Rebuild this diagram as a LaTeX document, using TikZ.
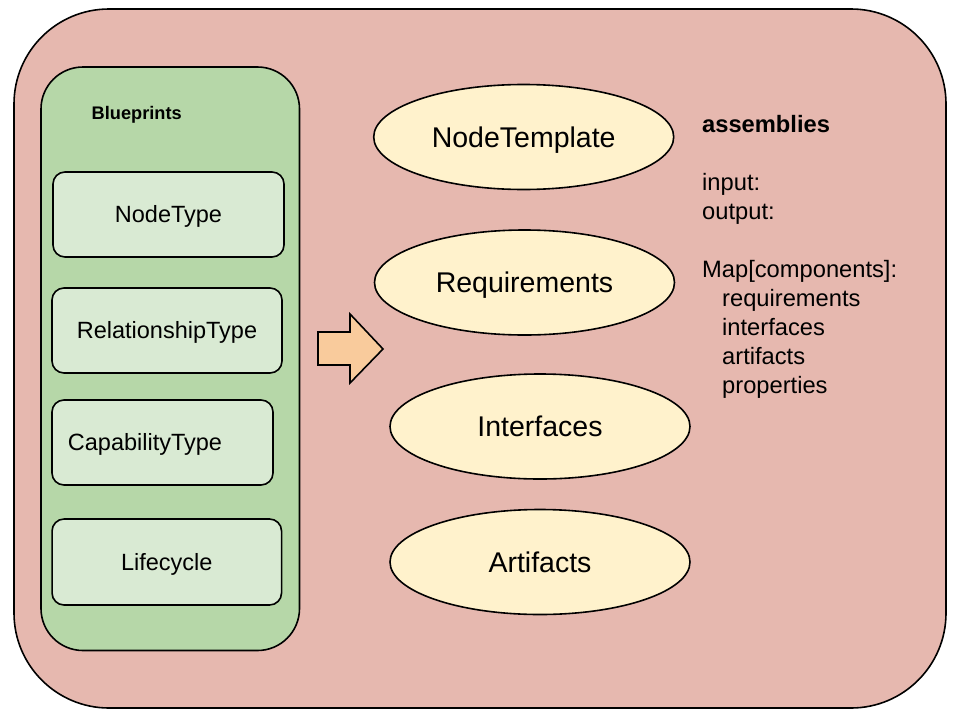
\documentclass[tikz,border=0pt]{standalone}
\usepackage{fontspec}
\setmainfont{Liberation Sans}
\definecolor{outerpink}{HTML}{E6B8AF}
\definecolor{bpgreen}{HTML}{B6D7A8}
\definecolor{boxgreen}{HTML}{D9EAD3}
\definecolor{ellyellow}{HTML}{FFF2CC}
\definecolor{arrorange}{HTML}{F9CB9C}
\tikzset{
  shapeline/.style={draw=black, line width=1.6pt},
  typebox/.style={shapeline, fill=boxgreen, rounded corners=12pt, inner sep=0pt,
    font=\fontsize{23.5}{28}\selectfont, text height=16.8pt, text depth=0pt},
  ellnode/.style={shapeline, fill=ellyellow, ellipse, inner sep=0pt,
    minimum width=300pt, minimum height=105pt,
    font=\fontsize{28.5}{34}\selectfont, text height=20.4pt, text depth=0pt},
  plaintext/.style={inner sep=0pt, anchor=base west, font=\fontsize{23.7}{29}\selectfont},
  boldtext/.style={plaintext, font=\fontsize{23.7}{29}\selectfont\bfseries},
}
\usetikzlibrary{shapes.geometric}
\begin{document}
\begin{tikzpicture}[x=1pt, y=-1pt]
\useasboundingbox (0,0) rectangle (960,720);
% outer container
\draw[shapeline, fill=outerpink, rounded corners=95pt] (14,9) rectangle (946,708);
% blueprints container
\draw[shapeline, fill=bpgreen, rounded corners=42pt] (41,67) rectangle (299.5,650.5);
\node[inner sep=0pt, anchor=base west, font=\fontsize{18.2}{22}\selectfont\bfseries] (bp) at (91.5,119.3) {Blueprints};
% type boxes
\node[typebox, minimum width=231pt, minimum height=85pt] (nodetype) at (168.5,214.5) {NodeType};
\node[typebox, minimum width=230pt, minimum height=85pt] (reltype) at (167,330.5) {RelationshipType};
\node[typebox, minimum width=221pt, minimum height=85pt] (captype) at (162.5,442.5) {};
\node[inner sep=0pt, font=\fontsize{23.5}{28}\selectfont, text height=16.8pt, text depth=0pt] (captxt) at (145,442.5) {CapabilityType};
\node[typebox, minimum width=229.5pt, minimum height=86pt] (lifecycle) at (166.8,562) {Lifecycle};
% arrow
\draw[shapeline, fill=arrorange, line join=miter] (318,332) -- (350,332) -- (350,314) -- (383,349) -- (350,383) -- (350,365) -- (318,365) -- cycle;
% ellipses
\node[ellnode] (nodetemplate) at (523.7,137) {NodeTemplate};
\node[ellnode] (requirements) at (524.5,282.5) {Requirements};
\node[ellnode] (interfaces) at (540,426.5) {Interfaces};
\node[ellnode] (artifacts) at (540,562) {Artifacts};
% assemblies text
\node[boldtext] (asm) at (702,132) {assemblies};
\node[plaintext] (inp) at (702,190) {input:};
\node[plaintext] (outp) at (702,219) {output:};
\node[plaintext] (mapc) at (702,277) {Map[components]:};
\node[plaintext] (mreq) at (722,306) {requirements};
\node[plaintext] (mint) at (722,335) {interfaces};
\node[plaintext] (mart) at (722,364) {artifacts};
\node[plaintext] (mprop) at (722,393) {properties};
\end{tikzpicture}
\end{document}
